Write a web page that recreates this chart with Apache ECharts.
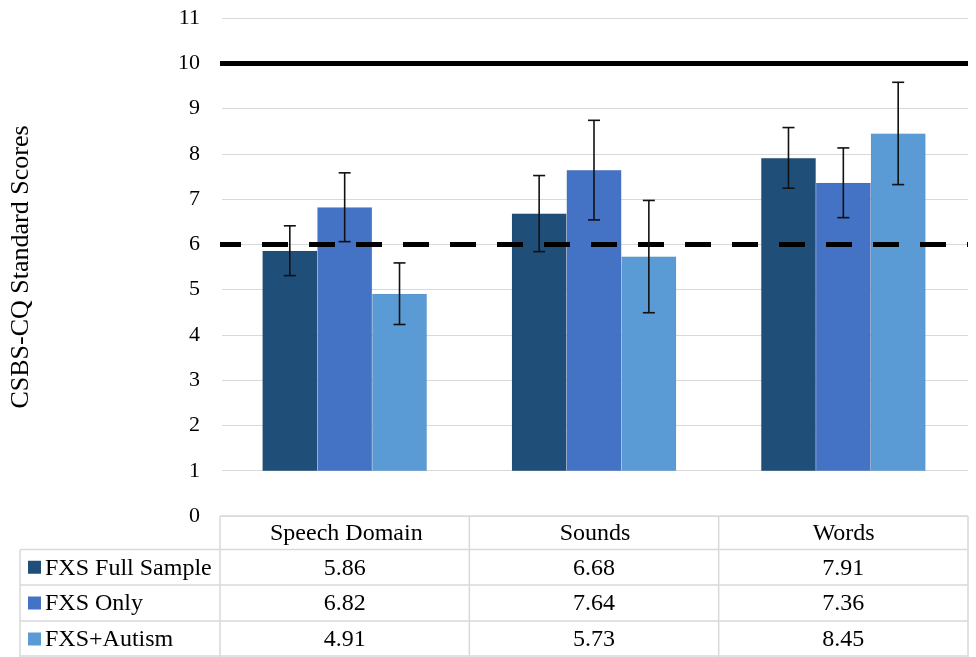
<!DOCTYPE html>
<html>
<head>
<meta charset="utf-8">
<script src="https://cdn.jsdelivr.net/npm/echarts@6/dist/echarts.min.js"></script>
<style>
html,body{margin:0;padding:0;background:#fff;}
#chart{width:976px;height:657px;}
</style>
</head>
<body>
<div id="chart"></div>
<script>
// ---- data ----
const categories = ['Speech Domain', 'Sounds', 'Words'];
const seriesNames = ['FXS Full Sample', 'FXS Only', 'FXS+Autism'];
const fxsFull = [5.86, 6.68, 7.91];
const fxsOnly = [6.82, 7.64, 7.36];
const fxsAutism = [4.91, 5.73, 8.45];
const errFull = [0.55, 0.84, 0.67];
const errOnly = [0.76, 1.10, 0.77];
const errAutism = [0.68, 1.24, 1.13];
const axisMin = 0;
const axisMax = 11;
const barBase = 1;
const solidRef = 10;
const dashedRef = 6;
const yTitle = 'CSBS-CQ Standard Scores';

// ---- layout / style ----
const colors = ['#1F4E79', '#4472C4', '#5B9BD5'];
const FONT = '"Liberation Serif", "Times New Roman", serif';
const W = 976, H = 657;
const gridLeft = 220, gridRight = 8, gridTop = 18, gridBottom = 141;
const plotH = H - gridTop - gridBottom;
const unit = plotH / (axisMax - axisMin);
const barGridBottom = gridBottom + unit * (barBase - axisMin);
const barPct = 0.22;

const values = [fxsFull, fxsOnly, fxsAutism];
const errs = [errFull, errOnly, errAutism];

const chart = echarts.init(document.getElementById('chart'), null, {renderer: 'canvas'});

const series = [];
values.forEach((vals, k) => {
  const s = {
    name: seriesNames[k],
    type: 'bar',
    xAxisIndex: 1,
    yAxisIndex: 1,
    data: vals,
    barWidth: (barPct * 100) + '%',
    barGap: '0%',
    itemStyle: {color: colors[k], borderColor: 'rgba(0,0,0,0.08)', borderWidth: 0.5},
    z: 2
  };
  if (k === 0) {
    s.markLine = {
      silent: true,
      symbol: ['none', 'none'],
      label: {show: false},
      z: 5,
      data: [
        {yAxis: solidRef, lineStyle: {color: '#000', width: 5, type: 'solid'}},
        {yAxis: dashedRef, lineStyle: {color: '#000', width: 5, type: [26, 21], dashOffset: 5}}
      ]
    };
  }
  series.push(s);
});
values.forEach((vals, k) => {
  series.push({
    name: seriesNames[k] + ' err',
    type: 'custom',
    xAxisIndex: 1,
    yAxisIndex: 1,
    z: 6,
    silent: true,
    data: vals.map((v, i) => [i, v, errs[k][i]]),
    renderItem: function (params, api) {
      const ci = api.value(0), v = api.value(1), e = api.value(2);
      const band = api.size([1, 0])[0];
      const bw = band * barPct;
      const off = (k - 1) * bw;
      const top = api.coord([ci, v + e]);
      const bot = api.coord([ci, v - e]);
      const x = top[0] + off;
      const cap = 6;
      const st = {stroke: '#111', lineWidth: 1.6};
      return {
        type: 'group',
        children: [
          {type: 'line', shape: {x1: x, y1: top[1], x2: x, y2: bot[1]}, style: st},
          {type: 'line', shape: {x1: x - cap, y1: top[1], x2: x + cap, y2: top[1]}, style: st},
          {type: 'line', shape: {x1: x - cap, y1: bot[1], x2: x + cap, y2: bot[1]}, style: st}
        ]
      };
    }
  });
});

// ---- data table (graphic) ----
const tableTop = gridTop + plotH;          // 516
const rowEdges = [tableTop, 549.5, 585, 621, 657];
const tableLeft = 20;
const tableRight = W - gridRight;
const colW = (tableRight - gridLeft) / categories.length;
const borderStyle = {stroke: '#d9d9d9', lineWidth: 1.5};
const graphics = [];
function hline(y, x1, x2) { graphics.push({type: 'line', silent: true, shape: {x1: x1, y1: y, x2: x2, y2: y}, style: borderStyle}); }
function vline(x, y1, y2) { graphics.push({type: 'line', silent: true, shape: {x1: x, y1: y1, x2: x, y2: y2}, style: borderStyle}); }
hline(rowEdges[0], gridLeft, tableRight);
for (let r = 1; r < rowEdges.length; r++) hline(rowEdges[r] - (r === rowEdges.length - 1 ? 1 : 0), tableLeft, tableRight);
vline(tableLeft, rowEdges[1], H);
for (let c = 0; c <= categories.length; c++) vline(gridLeft + c * colW, rowEdges[0], H);
seriesNames.forEach((nm, k) => {
  const cy = (rowEdges[k + 1] + rowEdges[k + 2]) / 2;
  graphics.push({type: 'rect', silent: true, shape: {x: 28, y: cy - 6.5, width: 13, height: 13}, style: {fill: colors[k]}});
  graphics.push({type: 'text', silent: true, style: {text: nm, x: 45, y: cy + 1, font: '24px ' + FONT, fill: '#000', align: 'left', verticalAlign: 'middle', textAlign: 'left', textVerticalAlign: 'middle'}});
  values[k].forEach((v, i) => {
    graphics.push({type: 'text', silent: true, style: {text: v.toFixed(2), x: gridLeft + colW * (i + 0.5), y: cy + 1, font: '24px ' + FONT, fill: '#000', align: 'center', verticalAlign: 'middle', textAlign: 'center', textVerticalAlign: 'middle'}});
  });
});

const option = {
  animation: false,
  backgroundColor: '#fff',
  grid: [
    {left: gridLeft, right: gridRight, top: gridTop, bottom: gridBottom},
    {left: gridLeft, right: gridRight, top: gridTop, bottom: barGridBottom}
  ],
  xAxis: [
    {
      type: 'category', gridIndex: 0, data: categories,
      axisLine: {show: false}, axisTick: {show: false},
      axisLabel: {margin: 6, fontFamily: FONT, fontSize: 24, color: '#000', lineHeight: 24}
    },
    {
      type: 'category', gridIndex: 1, data: categories, show: false
    }
  ],
  yAxis: [
    {
      type: 'value', gridIndex: 0, min: axisMin, max: axisMax, interval: 1,
      name: yTitle, nameLocation: 'middle', nameGap: 188,
      nameTextStyle: {fontFamily: FONT, fontSize: 26, color: '#000'},
      axisLine: {show: false}, axisTick: {show: false},
      axisLabel: {margin: 22, fontFamily: FONT, fontSize: 22, color: '#000'},
      splitLine: {show: true, lineStyle: {color: '#d9d9d9', width: 1}}
    },
    {
      type: 'value', gridIndex: 1, min: barBase, max: axisMax, interval: 1, show: false,
      splitLine: {show: false}
    }
  ],
  graphic: graphics,
  series: series
};
chart.setOption(option);
</script>
</body>
</html>
